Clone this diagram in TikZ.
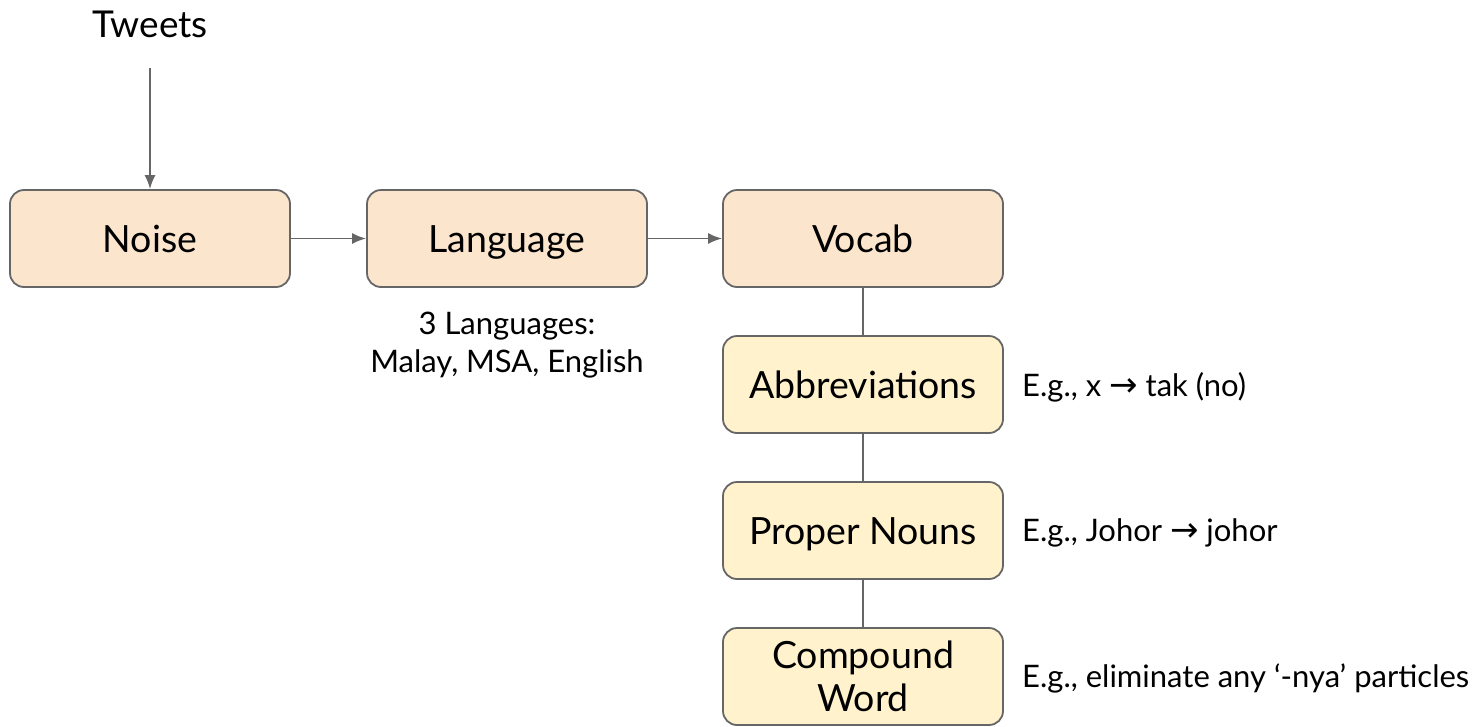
\documentclass[tikz,border=0pt]{standalone}
\usepackage{fontspec}
\setmainfont{Lato}
\newfontfamily\symfont{DejaVu Sans}
\usetikzlibrary{arrows.meta}
\definecolor{orangebox}{HTML}{FCE5CD}
\definecolor{yellowbox}{HTML}{FFF2CC}
\definecolor{edge}{HTML}{666666}
\newcommand{\rarr}{{\symfont\fontsize{34}{36}\selectfont →}}
\tikzset{
  stage/.style={draw=edge, line width=1.8pt, rounded corners=14pt, minimum width=280pt, minimum height=97pt, inner sep=0pt, align=center, font=\fontsize{37.5}{43}\selectfont},
  oneline/.style={text height=27pt, text depth=0pt},
  main/.style={stage, fill=orangebox, oneline},
  sub/.style={stage, fill=yellowbox},
  conn/.style={draw=edge, line width=1.8pt},
  arr/.style={conn, -{Latex[length=14pt,width=11pt]}},
  note/.style={font=\fontsize{31}{36}\selectfont, inner sep=0pt}
}
\begin{document}
\begin{tikzpicture}[x=1pt,y=-1pt]
\useasboundingbox (0,0) rectangle (1478,726);
\node[font=\fontsize{37}{40}\selectfont, inner sep=0pt, text height=26.6pt, text depth=0pt] (tweets) at (150,24) {Tweets};
\coordinate (tw) at (150,68);
\node[main] (noise) at (150,238.5) {Noise};
\node[main] (lang) at (507,238.5) {Language};
\node[main] (vocab) at (863,238.5) {Vocab};
\node[sub, oneline] (abbr) at (863,384.5) {Abbreviations};
\node[sub, oneline] (prop) at (863,530.5) {Proper Nouns};
\node[sub] (comp) at (863,676.5) {Compound\\Word};
\node[note, align=center] (langnote) at (507,345) {3 Languages:\\[2pt]Malay, MSA, English};
\node[note, anchor=base west] (e1) at (1022,396) {E.g., x \rarr\ tak (no)};
\node[note, anchor=base west] (e2) at (1022,541) {E.g., Johor \rarr\ johor};
\node[note, anchor=base west] (e3) at (1022,687) {E.g., eliminate any ‘-nya’ particles};
\draw[arr] (tw) -- (noise.north);
\draw[arr] (noise) -- (lang);
\draw[arr] (lang) -- (vocab);
\draw[conn] (vocab) -- (abbr);
\draw[conn] (abbr) -- (prop);
\draw[conn] (prop) -- (comp);
\end{tikzpicture}
\end{document}
